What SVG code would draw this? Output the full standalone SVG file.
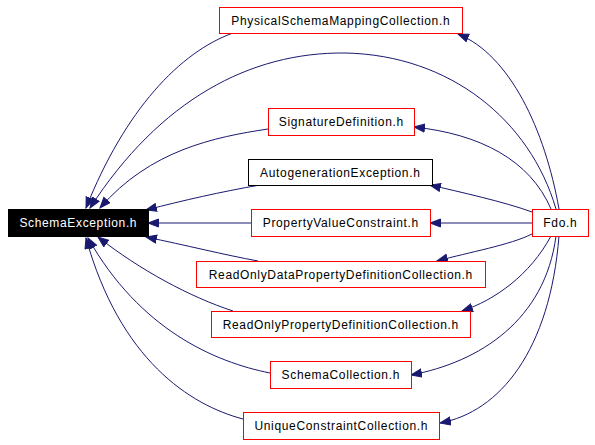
<svg xmlns="http://www.w3.org/2000/svg" width="595" height="445" viewBox="0 0 595 445">
<defs>
<marker id="ah" markerUnits="userSpaceOnUse" markerWidth="13" markerHeight="10" refX="11" refY="4.5" orient="auto">
<path d="M0.5,0.5 L11,4.5 L0.5,8.5 Z" fill="#191970" stroke="#191970" stroke-width="1"/>
</marker>
<style>
.n rect{fill:#fff;stroke:#ff0000;stroke-width:1;shape-rendering:crispEdges}
.n text{font-family:"Liberation Sans",Arial,sans-serif;font-size:12px;letter-spacing:0.65px;text-anchor:middle;fill:#000}
#edges path{fill:none;stroke:#191970;stroke-width:1;marker-end:url(#ah)}
</style>
</defs>
<rect width="595" height="445" fill="#fff"/>
<g id="edges">
<path d="M233,33 C180,52 125,110 86,208"/>
<path d="M556,209 C530,120 450,55 345,53 C250,52 160,100 90,208"/>
<path d="M268,129 C215,137 150,150 100,208"/>
<path d="M260,185 C220,192 185,200 146,210"/>
<path d="M251,223 L148,223"/>
<path d="M258,261 C225,255 185,245 146,237"/>
<path d="M233,311 C190,297 140,270 98,237"/>
<path d="M270,373 C215,362 140,330 88,238"/>
<path d="M243,419 C190,405 120,360 86,238"/>
<path d="M559,209 C545,130 510,55 458,34"/>
<path d="M551,209 C530,160 480,134 414,127"/>
<path d="M532,212 C505,202 460,192 430,185"/>
<path d="M532,223 L430,223"/>
<path d="M532,234 C510,245 470,252 437,261"/>
<path d="M551,236 C530,275 495,300 462,311"/>
<path d="M556,236 C545,320 480,362 411,375"/>
<path d="M559,236 C550,350 500,412 440,423"/>
</g>
<g id="SchemaException" class="n">
<rect x="8" y="209" width="140" height="27" style="fill:#000;stroke:#000"/>
<text x="78.3" y="227" style="fill:#fff">SchemaException.h</text>
</g>
<g id="PhysicalSchemaMappingCollection" class="n">
<rect x="219.5" y="7.5" width="243" height="26"/>
<text x="340.8" y="24.5">PhysicalSchemaMappingCollection.h</text>
</g>
<g id="SignatureDefinition" class="n">
<rect x="268.5" y="108.5" width="146" height="27"/>
<text x="341.3" y="126">SignatureDefinition.h</text>
</g>
<g id="AutogenerationException" class="n">
<rect x="248.5" y="159.5" width="184" height="26" style="stroke:#000"/>
<text x="340.3" y="176.5">AutogenerationException.h</text>
</g>
<g id="PropertyValueConstraint" class="n">
<rect x="251.5" y="209.5" width="179" height="27"/>
<text x="340.8" y="227">PropertyValueConstraint.h</text>
</g>
<g id="Fdo" class="n">
<rect x="532.5" y="209.5" width="56" height="27"/>
<text x="560.3" y="227">Fdo.h</text>
</g>
<g id="ReadOnlyDataPropertyDefinitionCollection" class="n">
<rect x="196.5" y="261.5" width="289" height="26"/>
<text x="340.8" y="278.5">ReadOnlyDataPropertyDefinitionCollection.h</text>
</g>
<g id="ReadOnlyPropertyDefinitionCollection" class="n">
<rect x="211.5" y="311.5" width="259" height="26"/>
<text x="340.8" y="328.5">ReadOnlyPropertyDefinitionCollection.h</text>
</g>
<g id="SchemaCollection" class="n">
<rect x="270.5" y="361.5" width="141" height="27"/>
<text x="340.8" y="379">SchemaCollection.h</text>
</g>
<g id="UniqueConstraintCollection" class="n">
<rect x="243.5" y="412.5" width="196" height="27"/>
<text x="341.3" y="430">UniqueConstraintCollection.h</text>
</g>
</svg>
